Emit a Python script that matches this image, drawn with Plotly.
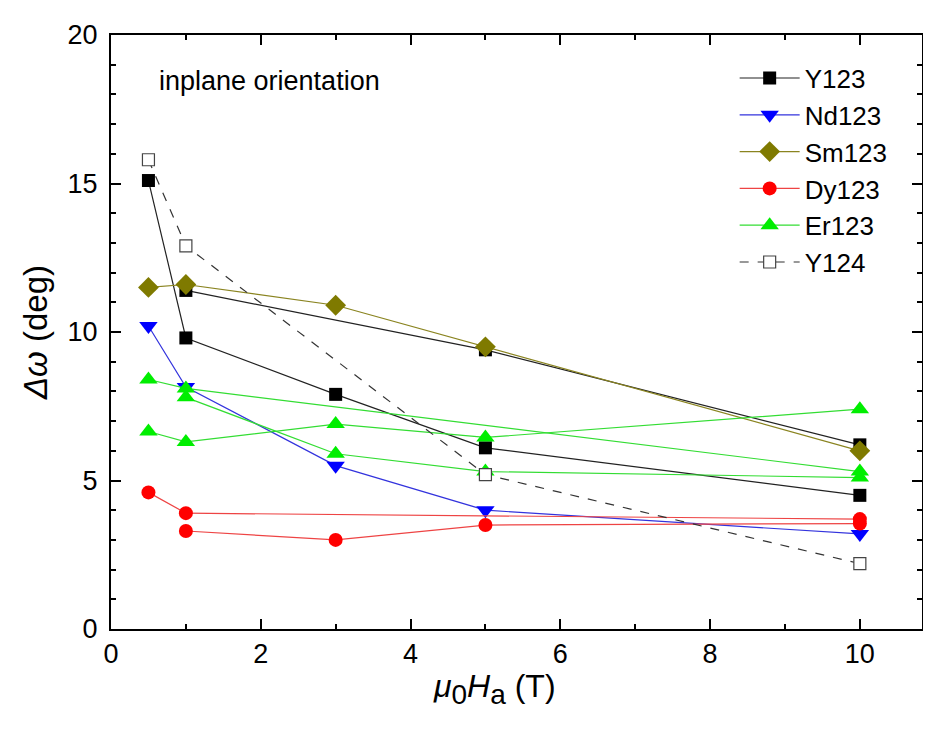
import plotly.graph_objects as go

# Data: each material may contain several measurement curves (separated by None)
y123_x = [0.5, 1, 3, 5, 10, None, 1, 5, 10]
y123_y = [15.1, 9.8, 7.9, 6.1, 4.5, None, 11.4, 9.4, 6.2]

nd123_x = [0.5, 1, 3, 5, 10]
nd123_y = [10.2, 8.15, 5.5, 4.0, 3.2]

sm123_x = [0.5, 1, 3, 5, 10]
sm123_y = [11.5, 11.6, 10.9, 9.5, 6.0]

dy123_x = [0.5, 1, 10, None, 1, 3, 5, 10]
dy123_y = [4.6, 3.9, 3.7, None, 3.3, 3.0, 3.5, 3.55]

er123_x = [0.5, 1, 10, None, 1, 3, 5, 10, None, 0.5, 1, 3, 5, 10]
er123_y = [8.4, 8.1, 5.3, None, 7.8, 5.9, 5.3, 5.1, None, 6.65, 6.3, 6.9, 6.45, 7.4]

y124_x = [0.5, 1, 5, 10]
y124_y = [15.8, 12.9, 5.2, 2.2]

x_ticks = [0, 2, 4, 6, 8, 10]
y_ticks = [0, 5, 10, 15, 20]

FONT = "Liberation Sans, Arial, sans-serif"

fig = go.Figure()

def add(name, xs, ys, color, symbol, size, line_color=None, dash="solid", mcolor=None, mline=None):
    fig.add_trace(go.Scatter(
        x=xs, y=ys, name=name, mode="lines+markers",
        connectgaps=False,
        line=dict(color=line_color or color, width=1.2, dash=dash),
        marker=dict(symbol=symbol, size=size, color=mcolor or color,
                    line=dict(width=mline[0] if mline else 0, color=mline[1] if mline else color)),
    ))

add("Y123", y123_x, y123_y, "black", "square", 13, line_color="#222222")
add("Nd123", nd123_x, nd123_y, "#0000ff", "triangle-down", 16, line_color="#3333dd")
add("Sm123", sm123_x, sm123_y, "#7f7a00", "diamond", 16, line_color="#8a8420")
add("Dy123", dy123_x, dy123_y, "#ff0000", "circle", 14, line_color="#ee4444")
add("Er123", er123_x, er123_y, "#00ee00", "triangle-up", 16, line_color="#33dd33")
add("Y124", y124_x, y124_y, "white", "square", 12, line_color="#333333", dash="dash",
    mcolor="white", mline=(1.2, "#444444"))

fig.add_annotation(x=0.0567, y=0.923, xref="paper", yref="paper", text="inplane orientation",
                   showarrow=False, xanchor="left", yanchor="middle",
                   font=dict(family=FONT, size=27, color="black"))

# x-axis title (placed as annotation to match its position in the reference)
fig.add_annotation(x=0.473, y=-0.101, xref="paper", yref="paper",
                   text="<i>μ</i><sub><span style='font-size:28px'>0</span></sub><i>H</i><sub><span style='font-size:28px'>a</span></sub> (T)",
                   showarrow=False, xanchor="center", yanchor="middle",
                   font=dict(family=FONT, size=32, color="black"))

axis_common = dict(
    showline=True, linecolor="black", linewidth=2, mirror="ticks",
    ticks="inside", ticklen=10, tickwidth=2, tickcolor="black",
    showgrid=False, zeroline=False,
    tickfont=dict(family=FONT, size=27, color="black"),
)

fig.update_layout(
    width=931, height=729,
    paper_bgcolor="white", plot_bgcolor="white",
    margin=dict(l=103, r=17, t=16, b=108),
    xaxis=dict(range=[0, 10.83], tickvals=x_ticks,
               minor=dict(dtick=1, ticks="inside", ticklen=5, tickwidth=2, tickcolor="black"),
               **axis_common),
    yaxis=dict(range=[0, 20], tickvals=y_ticks, ticklabelstandoff=6,
               minor=dict(dtick=1, ticks="inside", ticklen=5, tickwidth=2, tickcolor="black"),
               title=dict(text="<i>Δω</i> (deg)",
                          font=dict(family=FONT, size=33, color="black"), standoff=10),
               **axis_common),
    legend=dict(x=0.769, y=0.967, xanchor="left", yanchor="top",
                bgcolor="rgba(0,0,0,0)", borderwidth=0,
                font=dict(family=FONT, size=26, color="black"),
                itemwidth=60, tracegroupgap=0),
    showlegend=True,
)

fig.write_html("out.html")
